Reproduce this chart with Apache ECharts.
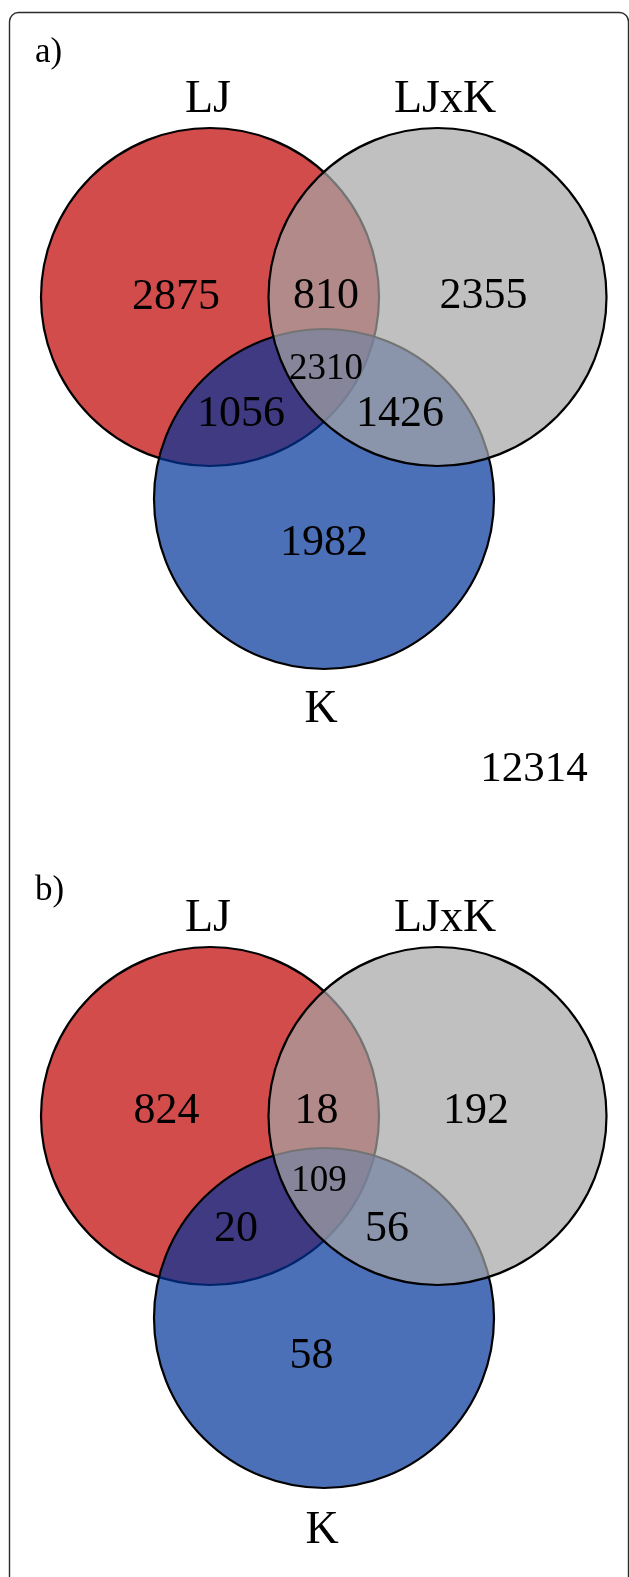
<!DOCTYPE html>
<html>
<head>
<meta charset="utf-8">
<title>Venn diagrams: LJ, LJxK, K</title>
<script src="https://cdn.jsdelivr.net/npm/echarts@6/dist/echarts.min.js"></script>
<style>
  html, body { margin: 0; padding: 0; background: #ffffff; }
  #chart { width: 629px; height: 1577px; }
</style>
</head>
<body>
<div id="chart"></div>
<script>
// ---- data ----
const setNames = ['LJ', 'LJxK', 'K'];
// region order: LJ only, LJxK only, K only, LJ&LJxK, LJ&K, LJxK&K, all three
const regionNames = ['LJ', 'LJxK', 'K', 'LJ ∩ LJxK', 'LJ ∩ K', 'LJxK ∩ K', 'LJ ∩ LJxK ∩ K'];
const countsA = [2875, 2355, 1982, 810, 1056, 1426, 2310];
const countsB = [824, 192, 58, 18, 20, 56, 109];
const totalA = 12314;
const panelTitles = ['a)', 'b)'];

// ---- layout (chart units = pixels of the 629 x 1577 canvas) ----
const PANEL_SHIFT = 819;
const TEXT_DY = 4.5; // glyph centre vs. em-box middle
const circleLayout = [[210, 297, 169], [437.5, 297, 169], [324, 499, 170]]; // LJ, LJxK, K
const setColors = ['rgba(192,0,0,0.7)', 'rgba(165,165,165,0.7)', 'rgba(0,51,153,0.7)'];
const drawOrder = [0, 2, 1]; // LJ, then K, then LJxK on top
const setLabelPos = [
  [[208, 95], [445, 95], [321, 705]],
  [[208, 914.5], [445, 914.5], [322, 1526.5]]
];
const regionPos = [
  [[176, 293], [483.5, 292], [324, 539], [326, 292], [241, 410], [400, 410], [326, 364.5]],
  [[166.5, 1107], [476, 1107], [311.5, 1352], [316.5, 1107], [236, 1225], [387, 1225], [319, 1176.5]]
];
const totalPos = [534, 765.5];
const titlePos = [[35, 48], [35, 886]];

const FONT = '"Liberation Serif", "Times New Roman", serif';

// circle data: [cx, cy, r, setIndex]
const circleData = [];
[0, 1].forEach(function (p) {
  drawOrder.forEach(function (s) {
    const c = circleLayout[s];
    circleData.push([c[0], c[1] + p * PANEL_SHIFT, c[2], s]);
  });
});

// text data: [x, y, text, fontSize, align]
const textData = [];
[countsA, countsB].forEach(function (counts, p) {
  counts.forEach(function (v, i) {
    textData.push([regionPos[p][i][0], regionPos[p][i][1] + TEXT_DY, String(v), i === 6 ? 37 : 44, 'center']);
  });
  setNames.forEach(function (name, s) {
    textData.push([setLabelPos[p][s][0], setLabelPos[p][s][1] + TEXT_DY, name, 46, 'center']);
  });
  textData.push([titlePos[p][0], titlePos[p][1] + TEXT_DY, panelTitles[p], 35, 'left']);
});
textData.push([totalPos[0], totalPos[1] + TEXT_DY, String(totalA), 43, 'center']);

const chart = echarts.init(document.getElementById('chart'), null, { renderer: 'canvas' });
chart.setOption({
  animation: false,
  backgroundColor: '#ffffff',
  grid: { left: 0, right: 0, top: 0, bottom: 0 },
  xAxis: { type: 'value', min: 0, max: 629, show: false },
  yAxis: { type: 'value', min: 0, max: 1577, inverse: true, show: false },
  graphic: [{
    type: 'rect',
    shape: { x: 9.5, y: 12.5, width: 619, height: 1580, r: 9 },
    style: { fill: 'none', stroke: '#2b2b2b', lineWidth: 1.4 },
    silent: true
  }],
  series: [
    {
      type: 'custom',
      coordinateSystem: 'cartesian2d',
      data: circleData,
      silent: true,
      renderItem: function (params, api) {
        const pt = api.coord([api.value(0), api.value(1)]);
        const r = api.size([api.value(2), 0])[0];
        return {
          type: 'circle',
          shape: { cx: pt[0], cy: pt[1], r: r },
          style: { fill: setColors[api.value(3)], stroke: '#000000', lineWidth: 2.2 }
        };
      }
    },
    {
      type: 'custom',
      coordinateSystem: 'cartesian2d',
      data: textData,
      silent: true,
      z: 5,
      renderItem: function (params, api) {
        const d = textData[params.dataIndex];
        const pt = api.coord([d[0], d[1]]);
        return {
          type: 'text',
          x: pt[0],
          y: pt[1],
          style: {
            text: d[2],
            font: d[3] + 'px ' + FONT,
            fill: '#000000',
            align: d[4],
            verticalAlign: 'middle'
          }
        };
      }
    }
  ]
});
</script>
</body>
</html>
